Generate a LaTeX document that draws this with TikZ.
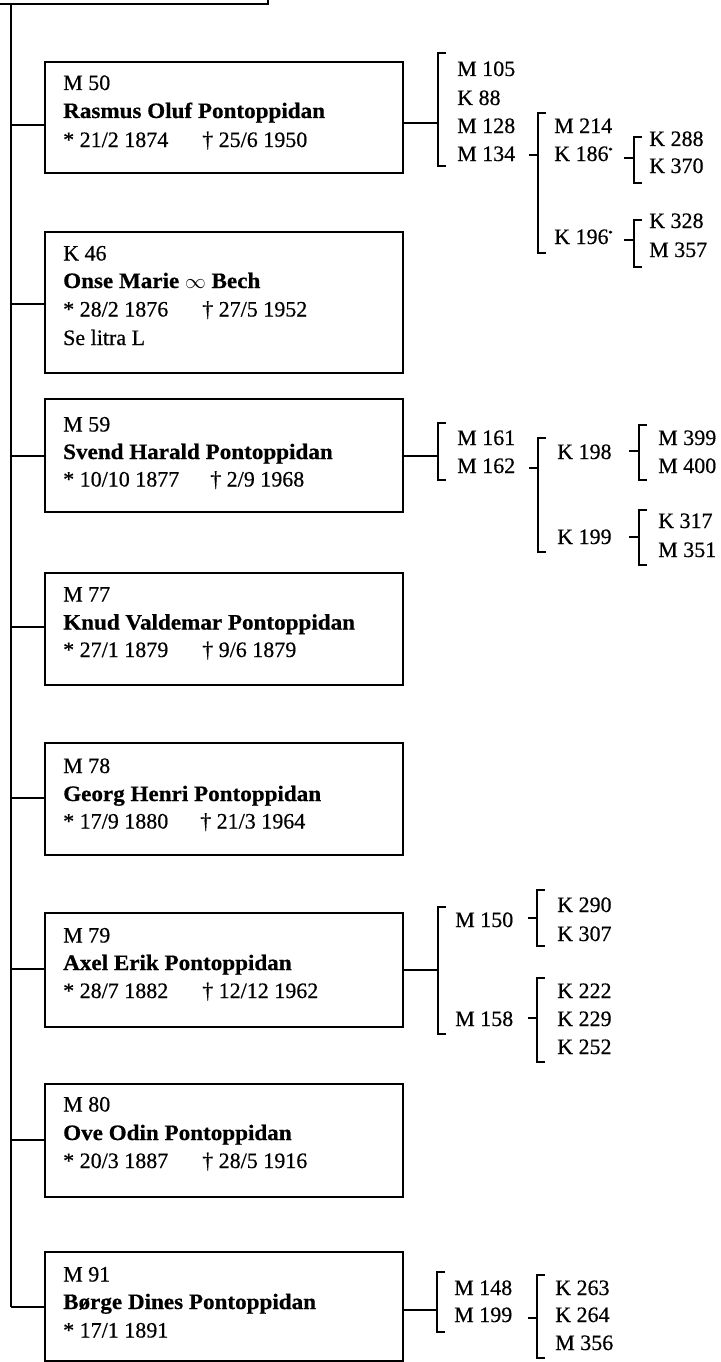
\documentclass[tikz,border=0pt]{standalone}
\usepackage{fontspec}
\setmainfont{Liberation Serif}[UprightFeatures={FakeBold=0.5},BoldFeatures={FakeStretch=1.05,FakeBold=0.6}]
\newcommand\supmk{\raisebox{8pt}{\fontsize{8}{8}\selectfont *}}
\newcommand\brkt[5]{% name, x, top, bottom, y of incoming tick
  \coordinate (#1) at (#2,#5);
  \draw[brk] (#2,#3) ++(8,0) -- ++(-8,0) -- (#2,#4) -- ++(8,0);
}
\begin{document}
\begin{tikzpicture}[x=1pt,y=-1pt,
  pbox/.style={draw, line width=2.8pt, inner sep=0pt, outer sep=0pt, minimum width=358pt},
  txt/.style={anchor=base west, inner sep=0pt, font=\fontsize{22}{26}\selectfont},
  nm/.style={anchor=base west, inner sep=0pt, font=\fontsize{22}{26}\selectfont\bfseries},
  ln/.style={line width=2.7pt},
  brk/.style={line width=2.6pt}
]
\useasboundingbox (0,0) rectangle (720,1362);

% parent box (cut by the page top)
\node[draw, line width=2.8pt, inner sep=0pt, outer sep=0pt, minimum width=300pt, minimum height=80pt] (parent) at (118,-36) {};
\coordinate (trunkTop) at (11,4);
\coordinate (trunkBot) at (11,1307);
\draw[ln] (trunkTop) -- (trunkBot);

% ---------- boxes ----------
\node[pbox, minimum height=111pt] (b50) at (224,117.5) {};
\node[pbox, minimum height=141pt] (b46) at (224,302.5) {};
\node[pbox, minimum height=113pt] (b59) at (224,455.5) {};
\node[pbox, minimum height=112pt] (b77) at (224,629) {};
\node[pbox, minimum height=112pt] (b78) at (224,799) {};
\node[pbox, minimum height=114pt] (b79) at (224,970) {};
\node[pbox, minimum height=113pt] (b80) at (224,1140.5) {};
\node[pbox, minimum height=109pt] (b91) at (224,1306.5) {};

% trunk connectors
\foreach \b/\y in {b50/125,b46/304,b59/456,b77/627,b78/798,b79/969,b80/1140,b91/1307}{
  \coordinate (t\b) at (11,\y);
  \draw[ln] (t\b) -- (t\b -| \b.west);
}

% ---------- box texts ----------
\node[txt] (b50a) at (63,90) {M 50};
\node[nm]  (b50b) at (63,118) {Rasmus Oluf Pontoppidan};
\node[txt] (b50c) at (63,147) {\makebox[139pt][l]{* 21/2 1874}† 25/6 1950};

\node[txt] (b46a) at (63,260.5) {K 46};
\node[nm]  (b46b) at (63,288) {Onse Marie $\infty$ Bech};
\node[txt] (b46c) at (63,316.5) {\makebox[139pt][l]{* 28/2 1876}† 27/5 1952};
\node[txt] (b46d) at (63,345) {Se litra L};

\node[txt] (b59a) at (63,431.5) {M 59};
\node[nm]  (b59b) at (63,459) {Svend Harald Pontoppidan};
\node[txt] (b59c) at (63,486.5) {\makebox[147pt][l]{* 10/10 1877}† 2/9 1968};

\node[txt] (b77a) at (63,601.5) {M 77};
\node[nm]  (b77b) at (63,629.5) {Knud Valdemar Pontoppidan};
\node[txt] (b77c) at (63,657) {\makebox[139pt][l]{* 27/1 1879}† 9/6 1879};

\node[txt] (b78a) at (63,773) {M 78};
\node[nm]  (b78b) at (63,801) {Georg Henri Pontoppidan};
\node[txt] (b78c) at (63,828.5) {\makebox[137pt][l]{* 17/9 1880}† 21/3 1964};

\node[txt] (b79a) at (63,942.5) {M 79};
\node[nm]  (b79b) at (63,970) {Axel Erik Pontoppidan};
\node[txt] (b79c) at (63,998) {\makebox[139pt][l]{* 28/7 1882}† 12/12 1962};

\node[txt] (b80a) at (63,1111.5) {M 80};
\node[nm]  (b80b) at (63,1140) {Ove Odin Pontoppidan};
\node[txt] (b80c) at (63,1168) {\makebox[139pt][l]{* 20/3 1887}† 28/5 1916};

\node[txt] (b91a) at (63,1281.5) {M 91};
\node[nm]  (b91b) at (63,1309) {Børge Dines Pontoppidan};
\node[txt] (b91c) at (63,1337.5) {* 17/1 1891};

% ---------- M 50 descendants ----------
\brkt{k50}{438}{53}{166}{123}
\draw[ln] (k50 -| b50.east) -- (k50);
\node[txt] (m105) at (457,76) {M 105};
\node[txt] (k88)  at (457,105) {K 88};
\node[txt] (m128) at (457,133) {M 128};
\node[txt] (m134) at (457,161) {M 134};
\brkt{k134}{538}{113}{253}{155}
\draw[brk] (k134) -- ++(-9,0);
\node[txt] (m214) at (554,133) {M 214};
\node[txt] (k186) at (554,161) {K 186\supmk};
\node[txt] (k196) at (554,244) {K 196\supmk};
\brkt{k186b}{634}{137}{183}{158}
\draw[brk] (k186b) -- ++(-10,0);
\node[txt] (k288) at (649,146) {K 288};
\node[txt] (k370) at (649,173) {K 370};
\brkt{k196b}{634}{220}{267}{240}
\draw[brk] (k196b) -- ++(-10,0);
\node[txt] (k328) at (649,228) {K 328};
\node[txt] (m357) at (649,257) {M 357};

% ---------- M 59 descendants ----------
\brkt{k59}{438}{423}{480}{456}
\draw[ln] (k59 -| b59.east) -- (k59);
\node[txt] (m161) at (457,445) {M 161};
\node[txt] (m162) at (457,473) {M 162};
\brkt{k162}{538}{438}{552}{468}
\draw[brk] (k162) -- ++(-9,0);
\node[txt] (k198) at (557,459) {K 198};
\node[txt] (k199) at (557,544) {K 199};
\brkt{k198b}{639}{425}{480}{451}
\draw[brk] (k198b) -- ++(-10,0);
\node[txt] (m399) at (658,445) {M 399};
\node[txt] (m400) at (658,473) {M 400};
\brkt{k199b}{639}{510}{565}{537}
\draw[brk] (k199b) -- ++(-10,0);
\node[txt] (k317) at (658,528) {K 317};
\node[txt] (m351) at (658,557) {M 351};

% ---------- M 79 descendants ----------
\brkt{k79}{438}{907}{1034}{970}
\draw[ln] (k79 -| b79.east) -- (k79);
\node[txt] (m150) at (455,927) {M 150};
\node[txt] (m158) at (455,1026) {M 158};
\brkt{k150}{537}{890}{946}{918}
\draw[brk] (k150) -- ++(-9,0);
\node[txt] (k290) at (557,912) {K 290};
\node[txt] (k307) at (557,941) {K 307};
\brkt{k158}{537}{978}{1062}{1018}
\draw[brk] (k158) -- ++(-9,0);
\node[txt] (k222) at (557,998) {K 222};
\node[txt] (k229) at (557,1026) {K 229};
\node[txt] (k252) at (557,1054) {K 252};

% ---------- M 91 descendants ----------
\brkt{k91}{437}{1272}{1332}{1310}
\draw[ln] (k91 -| b91.east) -- (k91);
\node[txt] (m148) at (454,1295) {M 148};
\node[txt] (m199) at (454,1322) {M 199};
\brkt{k199m}{537}{1275}{1358}{1318}
\draw[brk] (k199m) -- ++(-9,0);
\node[txt] (k263) at (555,1295) {K 263};
\node[txt] (k264) at (555,1322) {K 264};
\node[txt] (m356) at (555,1350) {M 356};
\end{tikzpicture}
\end{document}
